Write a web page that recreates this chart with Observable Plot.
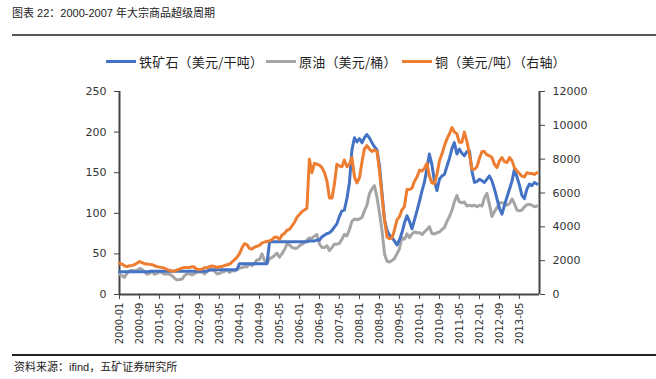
<!DOCTYPE html>
<html><head><meta charset="utf-8">
<script src="https://cdn.jsdelivr.net/npm/d3@7"></script>
<script src="https://cdn.jsdelivr.net/npm/@observablehq/plot@0.6"></script>
<style>
body{margin:0;background:#fff;}
#wrap{position:relative;width:656px;height:379px;overflow:hidden;font-family:"Liberation Sans","Noto Sans CJK SC",sans-serif;color:#222;}
#wrap svg{position:absolute;left:0;top:0;}
.title{position:absolute;left:12px;top:5px;font-size:11px;line-height:16px;white-space:nowrap;font-family:"Liberation Sans","Noto Sans CJK SC",sans-serif;}
.rule1{position:absolute;left:12px;right:0;top:34px;height:2px;background:#555;}
.rule2{position:absolute;left:12px;right:0;top:354px;height:1.5px;background:#222;}
.caption{position:absolute;left:14px;top:360px;font-size:11px;line-height:14px;white-space:nowrap;}
.lg{position:absolute;top:52px;height:18px;display:flex;align-items:center;font-size:13px;letter-spacing:0.2px;white-space:nowrap;font-family:"Noto Sans CJK SC",sans-serif;}
.sw{display:inline-block;width:30px;height:3px;margin-right:3px;}
</style></head>
<body>
<div id="wrap">
  <div class="title">图表 22：2000-2007 年大宗商品超级周期</div>
  <div class="rule1"></div>
  <div id="legend"></div>
  <div class="rule2"></div>
  <div class="caption">资料来源：ifind，五矿证券研究所</div>
</div>
<script>
// Series names and colours
const seriesNames = ["铁矿石（美元/干吨）", "原油（美元/桶）", "铜（美元/吨）（右轴）"];
const seriesColors = ["#4472C4", "#A5A5A5", "#ED7D31"];

// Monthly values, 2000-01 .. 2013-12
const ironOre = [
  28,28,28,28,28,28,28,28,28,28,28,28,
  28.5,28.5,28.5,28.5,28.5,28.5,28.5,28.5,28.5,28.5,28.5,28.5,
  28.5,28.5,28.5,28.5,28.5,28.5,28.5,28.5,28.5,28.5,28.5,28.5,
  30.5,30.5,30.5,30.5,30.5,30.5,30.5,30.5,30.5,30.5,30.5,30.5,
  38,38,38,38,38,38,38,38,38,38,38,38,
  65,65,65,65,65,65,65,65,65,65,65,65,
  65,65,65,65,66,66,66,67,67,71,73,75,
  76,79,83,87,96,103,104,118,138,178,193,188,
  192,187,193,197,193,187,182,178,158,125,92,79,
  73,70,66,61,67,76,88,97,90,81,92,103,
  115,128,138,155,173,160,140,128,142,146,148,158,
  168,180,187,173,179,174,171,176,177,152,138,139,
  142,140,138,142,146,140,130,118,106,99,110,120,
  130,140,154,145,135,122,118,130,136,134,138,136
];
const crudeOil = [
  25,23,21,26,29,30,29,30,32,31,28,25,
  26,28.6,25,26,28,27,25,25.5,25,23.3,20,18,
  18.5,19,23,25.7,25.4,24.1,25.7,27.4,28,27.5,25.4,28.6,
  30,30.3,29,25.4,25.8,27.6,28.4,29.9,27.1,29.6,28.8,31,
  32.8,33,34.4,34,37.7,35.5,38,42.6,43,50,42,38.5,
  44.3,45.6,48,51,46,50,55,62,61,58,57,57,
  60,62,64,67,69.6,69,72,73.7,62,58,58,60,
  54,58,62,62,63,68,74,72,80,90,93,92,
  93,95,103,110,124,130,134,120,100,79,50,41,
  40,42,44,50,56,70,68,74.6,70,74.6,77,76,
  76,74,77,80,83.5,75,74.6,76,77,80,82.7,90,
  96,104,114,122,114,113,114,109,110,109,110,108,
  110,109,119,124.5,111,96,102,107,113,113,112,110,
  112,117.5,112,104,103,104,108,110.5,111,110,108,109
];
const copper = [
  1850,1800,1700,1650,1700,1720,1760,1850,1950,1880,1820,1800,
  1780,1760,1700,1650,1620,1590,1560,1480,1430,1390,1380,1450,
  1500,1560,1600,1590,1600,1640,1620,1480,1480,1500,1580,1580,
  1650,1680,1660,1590,1640,1650,1710,1760,1790,1920,2050,2200,
  2420,2760,3000,2950,2730,2680,2800,2850,2900,3050,3100,3150,
  3170,3250,3380,3400,3250,3520,3600,3800,3850,4050,4270,4580,
  4730,4900,5000,5100,8000,7200,7750,7700,7650,7500,7200,6700,
  5700,5700,6500,7700,7600,7550,7950,7550,7700,8100,6950,6600,
  6900,7850,8600,8800,8600,8450,8550,8450,7300,5800,4400,3400,
  3300,3350,3800,4400,4600,5000,5200,6200,6200,6300,6700,6950,
  7350,7300,7450,7750,7000,6600,6550,7100,7900,8300,8800,9200,
  9500,9870,9600,9500,9000,9000,9600,9050,8300,7400,7400,7550,
  8050,8450,8450,8250,8200,8100,7700,7500,7900,8100,7850,7800,
  8100,7900,7500,7300,7150,7000,6950,7200,7150,7150,7100,7200
];

// Axis ticks
const xTickLabels = ["2000-01","2000-09","2001-05","2002-01","2002-09","2003-05","2004-01","2004-09","2005-05","2006-01","2006-09","2007-05","2008-01","2008-09","2009-05","2010-01","2010-09","2011-05","2012-01","2012-09","2013-05"];
const leftTicks = [0,50,100,150,200,250];
const rightTicks = [0,2000,4000,6000,8000,10000,12000];

const parseYM = d3.utcParse("%Y-%m");
const start = parseYM("2000-01");
const end = parseYM("2014-01");
const k = 250 / 12000; // right axis -> left axis scale

const rows = ironOre.map((v, i) => ({
  date: d3.utcMonth.offset(start, i),
  iron: v,
  oil: crudeOil[i],
  copper: copper[i] * k
}));

const font = "'DejaVu Sans', sans-serif";
const chart = Plot.plot({
  width: 656, height: 379,
  marginLeft: 119, marginRight: 117, marginTop: 91, marginBottom: 85,
  style: {fontFamily: font, fontSize: "11px", color: "#333", background: "transparent"},
  x: {type: "utc", domain: [start, end]},
  y: {domain: [0, 250]},
  marks: [
    Plot.axisY({anchor: "left", ticks: leftTicks, tickSize: 5, tickPadding: 8, label: null, stroke: "#444"}),
    Plot.axisY({anchor: "right", ticks: rightTicks.map(v => v * k), tickFormat: d => String(Math.round(d / k)), tickSize: 5, tickPadding: 8, label: null, stroke: "#444"}),
    Plot.axisX({ticks: xTickLabels.map(parseYM), tickFormat: d3.utcFormat("%Y-%m"), tickRotate: -90, tickSize: 5, tickPadding: 3, label: null, fontSize: 10, stroke: "#444"}),
    Plot.ruleX([start], {stroke: "#444", strokeWidth: 2}),
    Plot.ruleX([end], {stroke: "#444", strokeWidth: 2}),
    Plot.ruleY([0], {stroke: "#444", strokeWidth: 2}),
    Plot.line(rows, {x: "date", y: "oil", stroke: seriesColors[1], strokeWidth: 3}),
    Plot.line(rows, {x: "date", y: "iron", stroke: seriesColors[0], strokeWidth: 3}),
    Plot.line(rows, {x: "date", y: "copper", stroke: seriesColors[2], strokeWidth: 3})
  ]
});
document.getElementById("wrap").prepend(chart);

// Legend
const legendX = [106, 266, 402];
const legend = document.getElementById("legend");
seriesNames.forEach((name, i) => {
  const item = document.createElement("div");
  item.className = "lg";
  item.style.left = legendX[i] + "px";
  item.innerHTML = `<span class="sw" style="background:${seriesColors[i]}"></span><span>${name}</span>`;
  legend.appendChild(item);
});
</script>
</body></html>
